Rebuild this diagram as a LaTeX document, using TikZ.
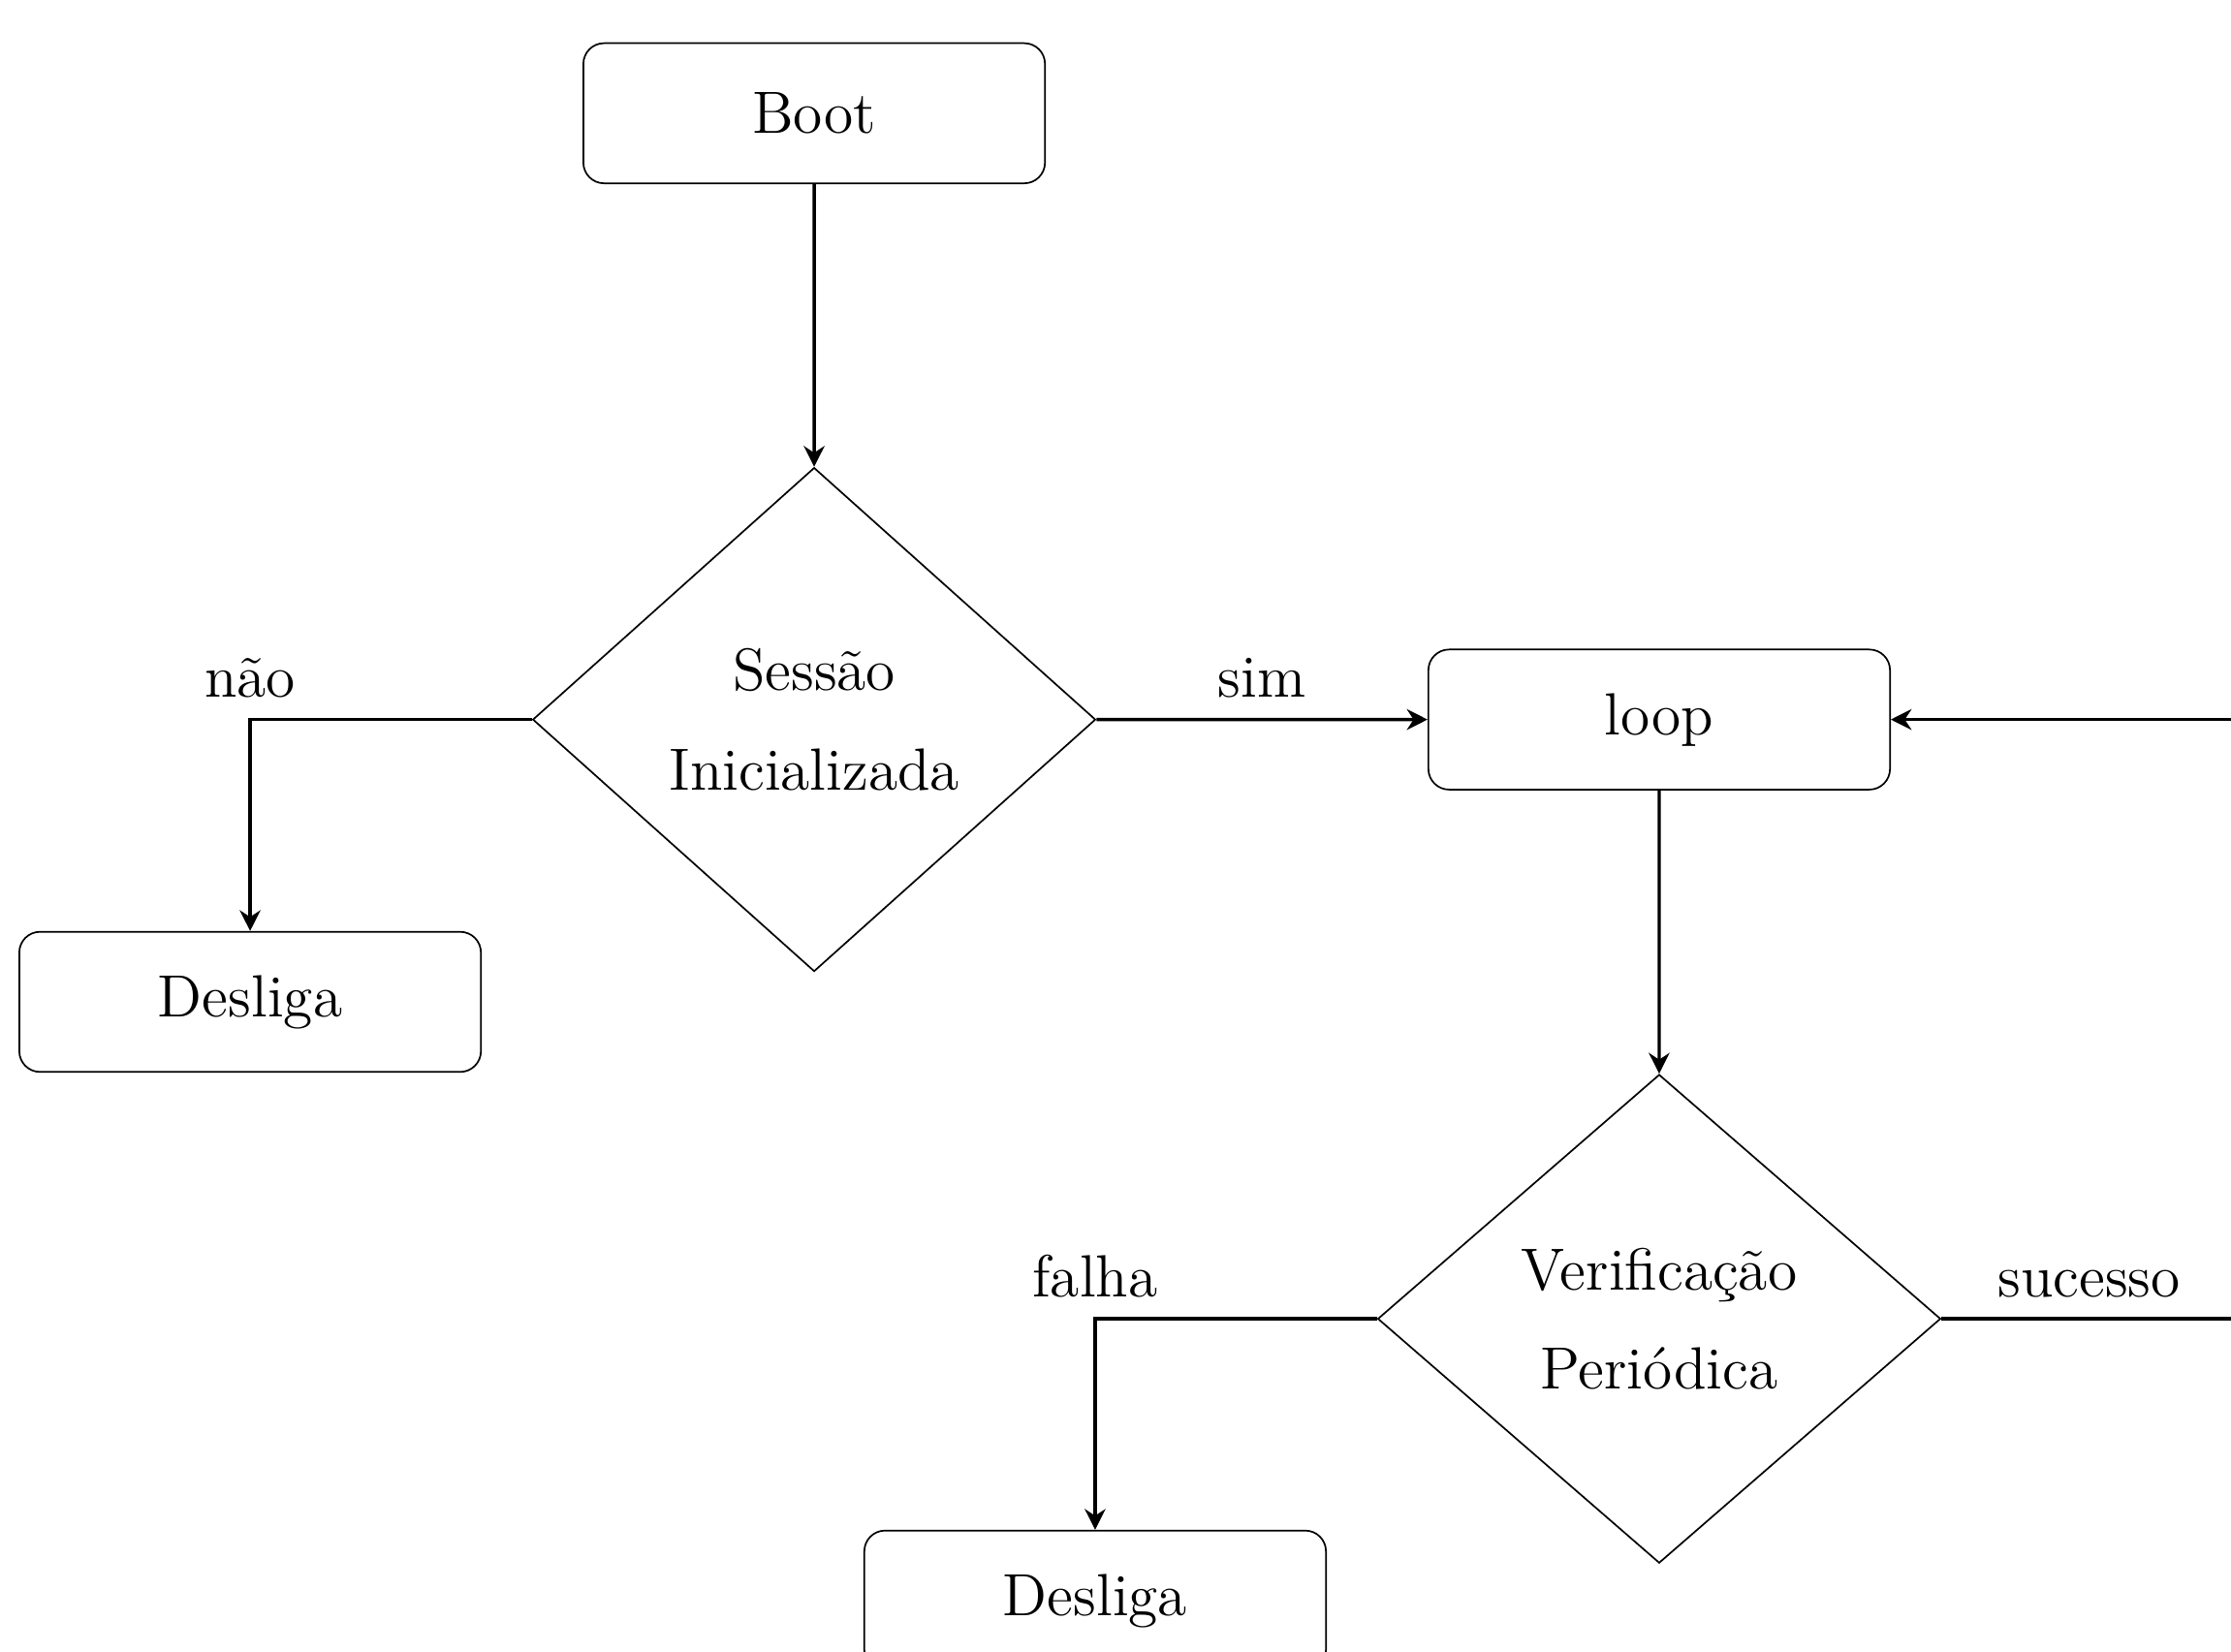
\documentclass[tikz,border=0pt]{standalone}
\usetikzlibrary{shapes.geometric,arrows.meta}
\begin{document}
\begin{tikzpicture}[scale=0.2]
	\tikzstyle{every node}+=[font=\Large]
	\tikzstyle{caixa}=[draw=black, rounded corners=5pt, minimum width=3.92cm, minimum height=1.19cm]
	\tikzstyle{decisao}=[draw=black, diamond, minimum width=4.78cm, inner sep=0pt, align=center]
	\tikzstyle{seta}=[black, thick, -{Stealth[length=5pt,width=5pt]}]
	\tikzstyle{rotulo}=[above, yshift=1.5pt]
	\useasboundingbox (0,0) rectangle (94.73,-70.16);
	% blocos
	\node [caixa] (boot) at (34.57,-4.81) {Boot};
	\node [decisao, minimum height=4.28cm] (sessao) at (34.57,-30.56) {Sessão\\[6pt]Inicializada};
	\node [caixa] (loop) at (70.45,-30.56) {loop};
	\node [caixa] (desl1) at (10.62,-42.55) {Desliga};
	\node [decisao, minimum height=4.15cm] (verif) at (70.45,-56.01) {Verificação\\[6pt]Periódica};
	\node [caixa] (desl2) at (46.50,-67.98) {Desliga};
	\coordinate (retorno) at (98.8,-56.01);
	% ligacoes
	\draw [seta] (boot) -- (sessao);
	\draw [seta] (sessao) -- node [rotulo] {sim} (loop);
	\draw [seta] (sessao.west) -| node [pos=0.5, rotulo] {não} (desl1);
	\draw [seta] (loop) -- (verif);
	\draw [seta] (verif.west) -| node [pos=0.5, rotulo] {falha} (desl2);
	\draw [seta] (verif.east) -- node [pos=0.383, rotulo] {sucesso} (retorno) |- (loop.east);
\end{tikzpicture}
\end{document}
